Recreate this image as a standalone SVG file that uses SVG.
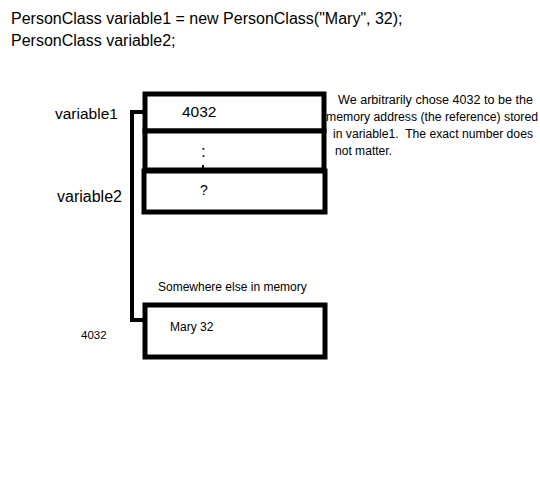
<svg xmlns="http://www.w3.org/2000/svg" width="540" height="480" viewBox="0 0 540 480">
<style>
text{font-family:"Liberation Sans",Arial,sans-serif;fill:#000}
.box{fill:#fff;stroke:#000;stroke-width:5}
.conn{fill:none;stroke:#000;stroke-width:4}
.code{font-size:16px}
.lbl{font-size:15.5px}
.note{font-size:12px;white-space:pre}
.sm{font-size:12px}
</style>
<rect width="540" height="480" fill="#fff"/>
<text class="code" x="11" y="24">PersonClass variable1 = new PersonClass("Mary", 32);</text>
<text class="code" x="11" y="46">PersonClass variable2;</text>
<g id="connectors">
<polyline class="conn" points="148,112 132,112 132,320 146,320"/>
</g>
<g id="cell1">
<rect class="box" x="145" y="94" width="179" height="37"/>
<text class="lbl" x="182" y="117">4032</text>
<text class="lbl" x="55" y="119">variable1</text>
</g>
<g id="cell2">
<rect class="box" x="145" y="131" width="179" height="39"/>
<text class="lbl" x="201" y="157" style="font-size:17px">:</text>
<rect x="202" y="165" width="2" height="3" fill="#000"/>
</g>
<g id="cell3">
<rect class="box" x="144" y="171" width="181" height="41"/>
<text class="sm" x="200" y="195" style="font-size:14px">?</text>
<text class="lbl" x="57" y="202" style="font-size:16px">variable2</text>
</g>
<g id="note">
<text class="note" x="338" y="104" textLength="195" lengthAdjust="spacingAndGlyphs">We arbitrarily chose 4032 to be the</text>
<text class="note" x="326" y="121" textLength="212" lengthAdjust="spacingAndGlyphs">memory address (the reference) stored</text>
<text class="note" x="333" y="138" textLength="200" lengthAdjust="spacingAndGlyphs">in variable1.  The exact number does</text>
<text class="note" x="335" y="155" textLength="57" lengthAdjust="spacingAndGlyphs">not matter.</text>
</g>
<g id="object">
<text class="sm" x="158" y="291">Somewhere else in memory</text>
<rect class="box" x="145" y="305" width="180" height="52"/>
<text class="sm" x="170" y="331">Mary 32</text>
<text class="sm" x="81" y="339" style="font-size:11.5px">4032</text>
</g>
</svg>
